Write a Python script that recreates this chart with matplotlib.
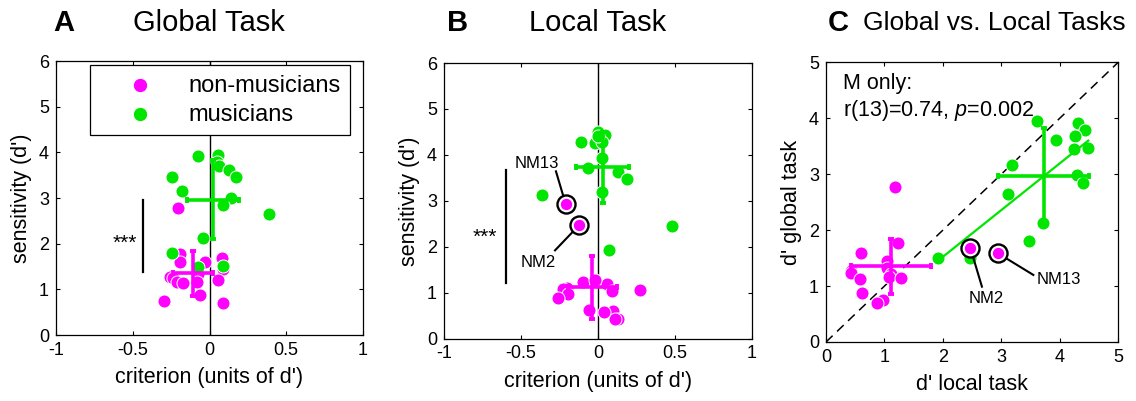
import numpy as np
import matplotlib
matplotlib.use("Agg")
import matplotlib.pyplot as plt

plt.rcParams['font.family'] = ['Liberation Sans', 'DejaVu Sans']
plt.rcParams['axes.unicode_minus'] = False
plt.rcParams['mathtext.fontset'] = 'custom'
plt.rcParams['mathtext.rm'] = 'Liberation Sans'
plt.rcParams['mathtext.it'] = 'Liberation Sans:italic'

MAG = '#ff00ff'
GRN = '#00e600'

# ---------------- data (per subject) ----------------
# musicians
m_crit_global = [0.053, -0.077, 0.046, 0.065, 0.128, -0.244, 0.172, -0.179,
                 0.142, 0.090, 0.386, -0.040, -0.242, 0.086, -0.077]
m_dprime_global = [3.95, 3.92, 3.79, 3.69, 3.62, 3.47, 3.45, 3.16,
                   2.99, 2.84, 2.64, 2.12, 1.80, 1.51, 1.50]
m_crit_local = [0.130, 0.010, 0.045, -0.110, 0.024, 0.002, -0.019, 0.024,
                0.024, 0.000, -0.366, -0.065, 0.190, 0.478, 0.074]
m_dprime_local = [3.62, 4.31, 4.43, 4.27, 3.93, 4.49, 4.25, 3.19,
                  4.29, 4.40, 3.12, 3.71, 3.48, 2.46, 1.92]

# non-musicians
nm_crit_global = [-0.203, -0.190, 0.080, -0.192, -0.029, 0.086, -0.073, -0.257,
                  -0.236, 0.057, -0.214, -0.084, -0.175, -0.062, -0.296, 0.089]
nm_dprime_global = [2.78, 1.77, 1.69, 1.60, 1.59, 1.45, 1.33, 1.27,
                    1.24, 1.21, 1.16, 1.15, 1.13, 0.87, 0.75, 0.69]
nm_crit_local = [0.057, -0.095, -0.122, 0.100, -0.211, 0.273, 0.089, 0.132,
                 0.110, -0.203, -0.225, -0.019, 0.039, -0.057, -0.193, -0.258]
nm_dprime_local = [1.19, 1.23, 2.47, 0.60, 2.94, 1.05, 1.04, 0.42,
                   0.42, 1.11, 1.08, 1.28, 0.58, 0.62, 0.97, 0.88]
nm_ids = ['', '', 'NM2', '', 'NM13', '', '', '', '', '', '', '', '', '', '', '']

group_labels = ['non-musicians', 'musicians']
panel_letters = ['A', 'B', 'C']
panel_titles = ['Global Task', 'Local Task', 'Global vs. Local Tasks']
crit_ticks = [-1, -0.5, 0, 0.5, 1]
crit_ticklabels = ['-1', '-0.5', '0', '0.5', '1']
sens_ticks = [0, 1, 2, 3, 4, 5, 6]
dp_ticks = [0, 1, 2, 3, 4, 5]
sig_span_A = [1.37, 2.95]
sig_span_B = [1.21, 3.68]
stats_line1 = 'M only:'
stats_line2 = r'r(13)=0.74, $\mathit{p}$=0.002'

W, H = 1136, 401
fig = plt.figure(figsize=(W / 100, H / 100), dpi=100)


def add_ax(l, r, t, b):
    return fig.add_axes([l / W, (H - b) / H, (r - l) / W, (b - t) / H])


axA = add_ax(56, 363, 61, 335)
axB = add_ax(444, 752, 63, 338.5)
axC = add_ax(826, 1118, 62.5, 342)

S = 88
EW = 0.7
TICK_FS = 13
LAB_FS = 15.5


def style(ax):
    ax.tick_params(direction='in', top=True, right=True, length=3, width=0.8,
                   labelsize=TICK_FS, pad=5)
    for sp in ax.spines.values():
        sp.set_linewidth(0.9)


def errcross(ax, x, y, color):
    x = np.asarray(x); y = np.asarray(y)
    ax.errorbar(x.mean(), y.mean(), xerr=x.std(ddof=1), yerr=y.std(ddof=1),
                color=color, lw=2.6, capsize=2.4, capthick=2.8, zorder=5)


def ring_nm(ax, xs, ys):
    for x, y, lab in zip(xs, ys, nm_ids):
        if lab:
            ax.plot([x], [y], 'o', ms=13, mfc='white', mec='black', mew=1.7, zorder=6)
            ax.scatter([x], [y], s=S * 0.9, c=MAG, edgecolors='white', linewidths=EW, zorder=7)


# ---------------- panels A and B ----------------
for ax, cx_nm, dy_nm, cx_m, dy_m in [
        (axA, nm_crit_global, nm_dprime_global, m_crit_global, m_dprime_global),
        (axB, nm_crit_local, nm_dprime_local, m_crit_local, m_dprime_local)]:
    ax.axvline(0, color='black', lw=1.0, zorder=1)
    hnm = ax.scatter(cx_nm, dy_nm, s=S, c=MAG, edgecolors='white', linewidths=EW,
                     zorder=3, label=group_labels[0])
    hm = ax.scatter(cx_m, dy_m, s=S, c=GRN, edgecolors='white', linewidths=EW,
                    zorder=3, label=group_labels[1])
    errcross(ax, cx_nm, dy_nm, MAG)
    errcross(ax, cx_m, dy_m, GRN)
    ax.set_xlim(-1, 1)
    ax.set_ylim(0, 6)
    ax.set_xticks(crit_ticks)
    ax.set_xticklabels(crit_ticklabels)
    ax.set_yticks(sens_ticks)
    ax.set_xlabel("criterion (units of d')", fontsize=LAB_FS, labelpad=6)
    ax.set_ylabel("sensitivity (d')", fontsize=LAB_FS, labelpad=5)
    style(ax)

leg = axA.legend(handles=[hnm, hm], loc='upper left', bbox_to_anchor=(0.111, 0.985),
                 borderaxespad=0, fontsize=17, markerscale=1.1, handlelength=3.4,
                 handletextpad=0.35, labelspacing=0.3, borderpad=0.4, fancybox=False,
                 framealpha=1, edgecolor='black', scatterpoints=1)
leg.get_frame().set_linewidth(0.9)
leg.set_zorder(10)

# significance markers
axA.plot([-0.43, -0.43], sig_span_A, color='black', lw=1.6)
axA.text(-0.475, 1.88, '***', ha='right', va='baseline', fontsize=15)
axB.plot([-0.597, -0.597], sig_span_B, color='black', lw=1.6)
axB.text(-0.658, 2.09, '***', ha='right', va='baseline', fontsize=15)

# NM labels in panel B
ring_nm(axB, nm_crit_local, nm_dprime_local)
i13 = nm_ids.index('NM13'); i2 = nm_ids.index('NM2')
axB.plot([nm_crit_local[i13], -0.273], [nm_dprime_local[i13], 3.64], color='black', lw=1.5, zorder=4)
axB.text(-0.398, 3.82, 'NM13', ha='center', va='center', fontsize=12)
axB.plot([nm_crit_local[i2], -0.279], [nm_dprime_local[i2], 1.92], color='black', lw=1.5, zorder=4)
axB.text(-0.388, 1.65, 'NM2', ha='center', va='center', fontsize=12)

# ---------------- panel C ----------------
axC.plot([0, 5], [0, 5], color='black', lw=1.1, dashes=(6, 4), zorder=1)
axC.scatter(nm_dprime_local, nm_dprime_global, s=S, c=MAG, edgecolors='white',
            linewidths=EW, zorder=3)
axC.scatter(m_dprime_local, m_dprime_global, s=S, c=GRN, edgecolors='white',
            linewidths=EW, zorder=3)
coef = np.polyfit(m_dprime_local, m_dprime_global, 1)
xr = np.array([min(m_dprime_local), max(m_dprime_local)])
axC.plot(xr, np.polyval(coef, xr), color=GRN, lw=1.6, zorder=4)
errcross(axC, nm_dprime_local, nm_dprime_global, MAG)
errcross(axC, m_dprime_local, m_dprime_global, GRN)
axC.plot([nm_dprime_local[i2], 2.67], [nm_dprime_global[i2], 0.99], color='black', lw=1.5, zorder=4)
axC.text(2.75, 0.78, 'NM2', ha='center', va='center', fontsize=12)
axC.plot([nm_dprime_local[i13], 3.55], [nm_dprime_global[i13], 1.2], color='black', lw=1.5, zorder=4)
axC.text(3.61, 1.11, 'NM13', ha='left', va='center', fontsize=12)
ring_nm(axC, nm_dprime_local, nm_dprime_global)
axC.text(0.29, 4.63, stats_line1, ha='left', va='center', fontsize=15.5)
axC.text(0.29, 4.15, stats_line2, ha='left', va='center', fontsize=15.5)
axC.set_xlim(0, 5)
axC.set_ylim(0, 5)
axC.set_xticks(dp_ticks)
axC.set_yticks(dp_ticks)
axC.set_xlabel("d' local task", fontsize=LAB_FS, labelpad=6)
axC.set_ylabel("d' global task", fontsize=LAB_FS, labelpad=5)
style(axC)

# titles
for (lx, tx, tfs), letter, title in zip([(64, 209, 21), (458, 598, 21), (838, 994, 19)],
                                         panel_letters, panel_titles):
    fig.text(lx / W, 1 - 23 / H, letter, ha='center', va='center', fontsize=21,
             fontweight='bold')
    fig.text(tx / W, 1 - 23 / H, title, ha='center', va='center', fontsize=tfs)

fig.savefig('out.png', dpi=100)
